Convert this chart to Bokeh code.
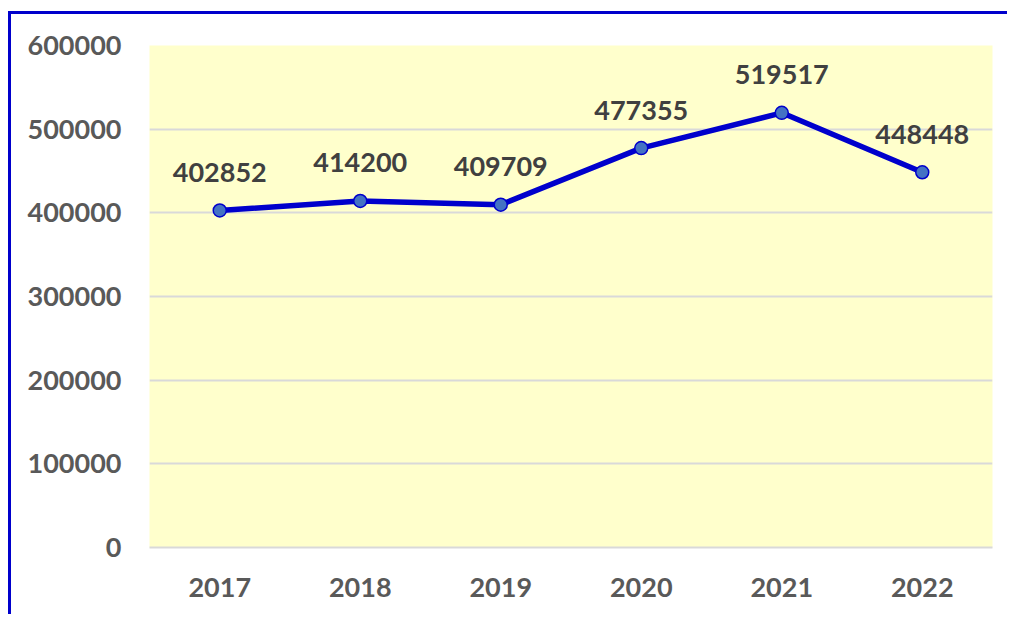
from bokeh.plotting import figure
from bokeh.models import ColumnDataSource, FixedTicker, BasicTickFormatter
from bokeh.core.properties import value
from bokeh.embed import file_html
from bokeh.resources import INLINE

years = ["2017", "2018", "2019", "2020", "2021", "2022"]
values = [402852, 414200, 409709, 477355, 519517, 448448]
labels = [str(v) for v in values]
y_ticks = [0, 100000, 200000, 300000, 400000, 500000, 600000]

FONT = "Lato"

src = ColumnDataSource(dict(x=years, y=values, label=labels))

p = figure(x_range=years, y_range=(0, 600000), width=999, height=603,
           output_backend="svg", toolbar_location=None,
           min_border_left=138, min_border_right=18,
           min_border_top=31, min_border_bottom=70)
p.styles = {"border-top": "3px solid #0000CC", "border-left": "3px solid #0000CC",
            "margin-top": "11px", "margin-left": "8px"}
p.background_fill_color = "#FFFFCC"
p.border_fill_color = "white"
p.outline_line_color = None

p.xgrid.grid_line_color = None
p.ygrid.grid_line_color = "#D9D9D9"
p.ygrid.grid_line_width = 2
p.yaxis.ticker = FixedTicker(ticks=y_ticks)
p.yaxis.formatter = BasicTickFormatter(use_scientific=False)

for ax in (p.xaxis, p.yaxis):
    ax.axis_line_color = None
    ax.major_tick_line_color = None
    ax.minor_tick_line_color = None
    ax.major_label_text_font = FONT
    ax.major_label_text_font_style = "bold"
    ax.major_label_text_font_size = "27px"
    ax.major_label_text_color = "#595959"
p.xaxis.axis_line_color = "#D9D9D9"
p.xaxis.axis_line_width = 2
p.yaxis.major_label_standoff = 22
p.xaxis.major_label_standoff = 24

p.line("x", "y", source=src, line_color="#0000CC", line_width=5.5)
p.scatter("x", "y", source=src, size=13, fill_color="#4472C4",
          line_color="#0000CC", line_width=1.5)
p.text("x", "y", text="label", source=src, text_align="center",
       text_baseline="alphabetic", y_offset=-38,
       text_font=value(FONT), text_font_style="bold",
       text_font_size="27px", text_color="#404040")

open("out.html", "w").write(file_html(p, INLINE))
